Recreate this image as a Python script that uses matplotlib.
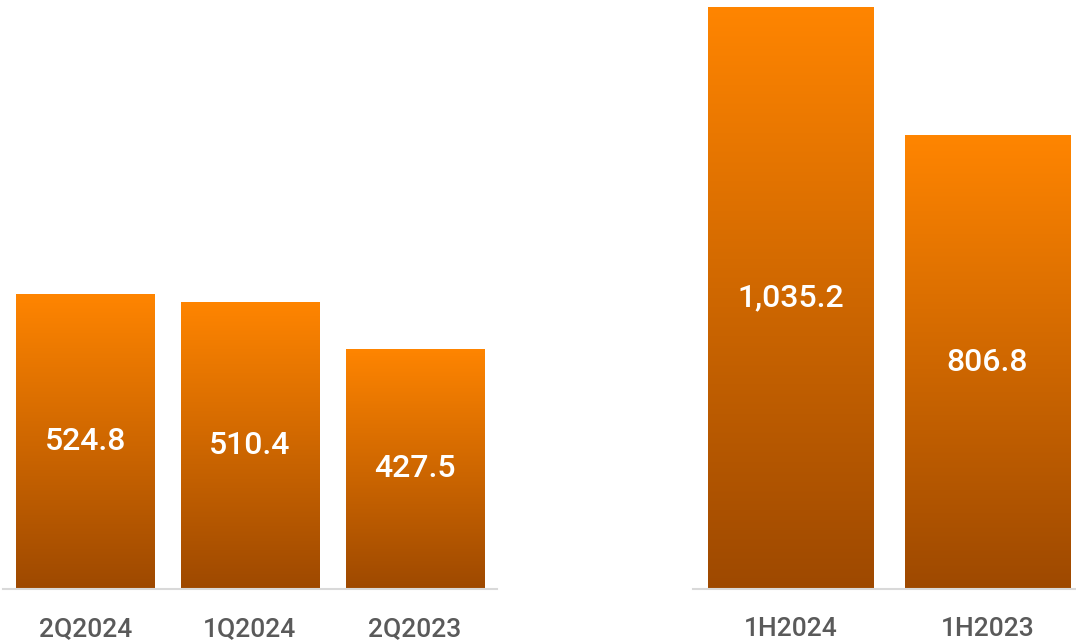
import matplotlib.pyplot as plt
import numpy as np
from matplotlib.colors import LinearSegmentedColormap

# quarterly and half-year values
q_labels = ['2Q2024', '1Q2024', '2Q2023']
q_values = [524.8, 510.4, 427.5]
h_labels = ['1H2024', '1H2023']
h_values = [1035.2, 806.8]

W, H = 1076, 641
fig = plt.figure(figsize=(W / 100, H / 100), dpi=100)
plt.rcParams['font.family'] = ['Roboto', 'DejaVu Sans']

grad = LinearSegmentedColormap.from_list('bar', ['#9E4900', '#FF8500'])
y_top = 1050
base_px = 589


def draw_panel(x0, x1, labels, values, width, xlim):
    ax = fig.add_axes([x0 / W, (H - base_px) / H, (x1 - x0) / W, y_top * 0.5625 / H])
    xs = np.arange(len(values))
    bars = ax.bar(xs, values, width=width, color='none')
    g = np.linspace(0, 1, 256).reshape(-1, 1)
    for b, v in zip(bars, values):
        x, w = b.get_x(), b.get_width()
        im = ax.imshow(g, cmap=grad, aspect='auto', origin='lower',
                       extent=[x, x + w, 0, v], zorder=2)
        im.set_clip_path(b)
        label = f'{v:,.1f}'
        ax.text(x + w / 2, v / 2, label, ha='center', va='center',
                color='white', fontsize=23, fontweight='medium', zorder=3)
    ax.set_xlim(*xlim)
    ax.set_ylim(0, y_top)
    ax.set_xticks(xs, labels)
    ax.tick_params(axis='x', length=0, pad=20, labelsize=19, labelcolor='#5a5a5a')
    for t in ax.get_xticklabels():
        t.set_fontweight('medium')
    ax.set_yticks([])
    for s in ['top', 'right', 'left']:
        ax.spines[s].set_visible(False)
    ax.spines['bottom'].set_color('#d9d9d9')
    ax.spines['bottom'].set_linewidth(1.5)
    ax.patch.set_alpha(0)
    return ax


draw_panel(3, 497, q_labels, q_values, 0.839, (-0.5, 2.5))
draw_panel(693, 1075, h_labels, h_values, 0.8376, (-0.495, 1.444))

fig.savefig('out.png', dpi=100)
